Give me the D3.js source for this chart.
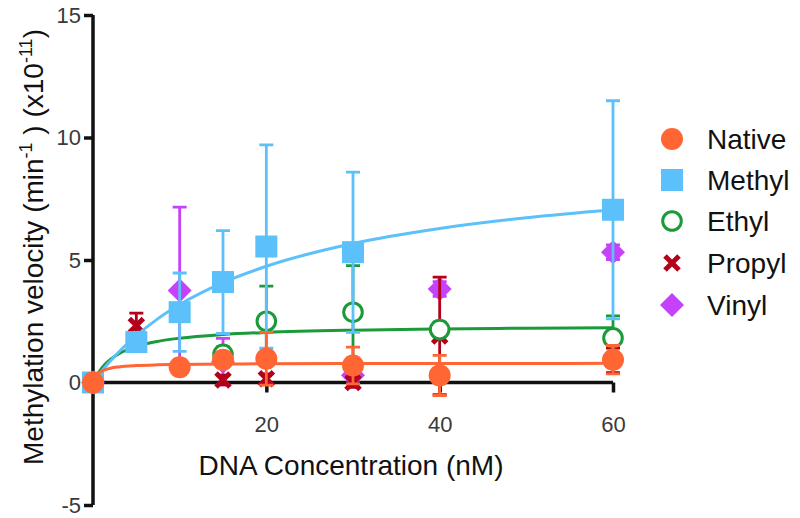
<!DOCTYPE html>
<html>
<head>
<meta charset="utf-8">
<script src="https://cdn.jsdelivr.net/npm/d3@7"></script>
<style>
  html, body { margin: 0; padding: 0; background: #fff; }
  svg { display: block; font-family: "Liberation Sans", Arial, sans-serif; }
</style>
</head>
<body>
<svg id="chart" width="800" height="518"></svg>
<script>
// ---------------- data ----------------
const concentrations = [0, 5, 10, 15, 20, 30, 40, 60];
const seriesNames = ["Native", "Methyl", "Ethyl", "Propyl", "Vinyl"];

const nativeMean = [0, null, 0.62, 0.93, 0.97, 0.69, 0.29, 0.93];
const nativeSD   = [0, null, 0.30, 0.30, 1.08, 0.75, 0.82, 0.58];

const methylMean = [0, 1.65, 2.87, 4.10, 5.55, 5.32, null, 7.05];
const methylSD   = [0, 0.20, 1.60, 2.10, 4.15, 3.27, null, 4.45];

const ethylMean  = [0, null, null, 1.15, 2.50, 2.87, 2.16, 1.82];
const ethylSD    = [0, null, null, 0.30, 1.43, 1.90, 0.30, 0.90];

const propylMean = [0, 2.33, null, 0.10, 0.15, 0.00, 1.90, 0.90];
const propylSD   = [0, 0.50, null, 0.20, 0.20, 0.20, 2.40, 0.50];

const vinylMean  = [0, null, 3.76, 0.85, null, 0.30, 3.82, 5.32];
const vinylSD    = [0, null, 3.40, 0.95, null, 0.20, 0.30, 0.30];

// fitted curves
const fitX      = [0, 0.5, 1, 2, 3, 5, 7.5, 10, 15, 20, 30, 40, 50, 60];
const nativeFit = [0, 0.324, 0.459, 0.581, 0.637, 0.691, 0.721, 0.737, 0.754, 0.763, 0.772, 0.776, 0.779, 0.781];
const methylFit = [0, 0.235, 0.459, 0.875, 1.254, 1.918, 2.608, 3.181, 4.076, 4.744, 5.671, 6.287, 6.724, 7.052];
const ethylFit  = [0, 0.336, 0.588, 0.940, 1.175, 1.469, 1.679, 1.808, 1.958, 2.043, 2.136, 2.186, 2.217, 2.238];

const xTicks = [20, 40, 60];
const yTicks = [15, 10, 5, 0, -5];

// ---------------- setup ----------------
const colors = {
  Native: "#ff6633",
  Methyl: "#5cc1fb",
  Ethyl:  "#1b9a3a",
  Propyl: "#b3001b",
  Vinyl:  "#c542fb"
};
const series = {
  Native: { mean: nativeMean, sd: nativeSD, fit: nativeFit, shape: "circle" },
  Methyl: { mean: methylMean, sd: methylSD, fit: methylFit, shape: "square" },
  Ethyl:  { mean: ethylMean,  sd: ethylSD,  fit: ethylFit,  shape: "open" },
  Propyl: { mean: propylMean, sd: propylSD, fit: null,      shape: "cross" },
  Vinyl:  { mean: vinylMean,  sd: vinylSD,  fit: null,      shape: "diamond" }
};

const svg = d3.select("#chart");
const x = d3.scaleLinear().domain([0, 60]).range([93, 613]);
const y = d3.scaleLinear().domain([-5, 15]).range([505, 15]);
const fontF = '"Liberation Sans", Arial, sans-serif';
const fmt = d => String(d);

// ---------------- axes ----------------
const yAxis = d3.axisLeft(y).tickValues(yTicks).tickSize(9).tickPadding(3).tickFormat(fmt);
const gy = svg.append("g").attr("transform", `translate(${x(0)},0)`).call(yAxis);
gy.select(".domain").attr("d", `M0,${y(15)}V${y(-5)}`).attr("stroke", "#111").attr("stroke-width", 3.5);
gy.selectAll(".tick line").attr("stroke", "#111").attr("stroke-width", 3.5);
gy.selectAll(".tick text").attr("font-size", 22).attr("fill", "#3a3a3a").attr("font-family", fontF);

const xAxis = d3.axisBottom(x).tickValues(xTicks).tickSize(10).tickPadding(24).tickFormat(fmt);
const gx = svg.append("g").attr("transform", `translate(0,${y(0)})`).call(xAxis);
gx.select(".domain").attr("d", `M${x(0)},0H${x(60)}`).attr("stroke", "#111").attr("stroke-width", 3.5);
gx.selectAll(".tick line").attr("stroke", "#111").attr("stroke-width", 3.5);
gx.selectAll(".tick text").attr("font-size", 22).attr("fill", "#3a3a3a").attr("font-family", fontF);

// axis titles
svg.append("text")
  .attr("x", 351).attr("y", 475)
  .attr("text-anchor", "middle")
  .attr("font-size", 28).attr("fill", "#111")
  .text("DNA Concentration (nM)");

const yt = svg.append("text")
  .attr("transform", "translate(43,247) rotate(-90)")
  .attr("text-anchor", "middle")
  .attr("font-size", 28).attr("fill", "#111");
yt.append("tspan").text("Methylation velocity (min");
yt.append("tspan").attr("font-size", 18).attr("dy", -11).text("-1");
yt.append("tspan").attr("dy", 11).text(" ) (x10");
yt.append("tspan").attr("font-size", 18).attr("dy", -11).text("-11");
yt.append("tspan").attr("dy", 11).text(")");

// ---------------- marker drawer ----------------
function drawMarker(g, shape, color, cx, cy) {
  if (shape === "circle") {
    g.append("circle").attr("cx", cx).attr("cy", cy).attr("r", 11).attr("fill", color);
  } else if (shape === "square") {
    g.append("rect").attr("x", cx - 11).attr("y", cy - 11).attr("width", 22).attr("height", 22).attr("fill", color);
  } else if (shape === "open") {
    g.append("circle").attr("cx", cx).attr("cy", cy).attr("r", 9.3)
      .attr("fill", "#fff").attr("stroke", color).attr("stroke-width", 3);
  } else if (shape === "cross") {
    const s = 7;
    g.append("path").attr("d", `M${cx - s},${cy - s}L${cx + s},${cy + s}M${cx - s},${cy + s}L${cx + s},${cy - s}`)
      .attr("stroke", color).attr("stroke-width", 5).attr("fill", "none");
  } else if (shape === "diamond") {
    const s = 12;
    g.append("path").attr("d", `M${cx},${cy - s}L${cx + s},${cy}L${cx},${cy + s}L${cx - s},${cy}Z`).attr("fill", color);
  }
}

// ---------------- plot ----------------
const plot = svg.append("g");
const line = d3.line().x(d => x(d[0])).y(d => y(d[1])).curve(d3.curveMonotoneX);
const drawOrder = ["Vinyl", "Propyl", "Ethyl", "Methyl", "Native"];

drawOrder.forEach(name => {
  const s = series[name];
  const c = colors[name];
  const g = plot.append("g");
  if (s.fit) {
    g.append("path").datum(fitX.map((v, i) => [v, s.fit[i]]))
      .attr("d", line).attr("fill", "none").attr("stroke", c).attr("stroke-width", 3);
  }
  concentrations.forEach((cx, i) => {
    const m = s.mean[i];
    if (m === null) return;
    const sd = s.sd[i];
    if (sd > 0) {
      const px = x(cx), top = y(m + sd), bot = y(m - sd), hw = 7;
      g.append("path")
        .attr("d", `M${px},${top}V${bot}M${px - hw},${top}H${px + hw}M${px - hw},${bot}H${px + hw}`)
        .attr("stroke", c).attr("stroke-width", 2.8).attr("fill", "none");
    }
  });
  concentrations.forEach((cx, i) => {
    const m = s.mean[i];
    if (m === null) return;
    drawMarker(g, s.shape, c, x(cx), y(m));
  });
});

// ---------------- legend ----------------
const legendY = [139, 180, 221, 263, 305];
const lg = svg.append("g");
seriesNames.forEach((name, i) => {
  drawMarker(lg, series[name].shape, colors[name], 672, legendY[i]);
  lg.append("text")
    .attr("x", 707).attr("y", legendY[i])
    .attr("dy", "0.36em")
    .attr("font-size", 28).attr("fill", "#111")
    .text(name);
});
</script>
</body>
</html>
